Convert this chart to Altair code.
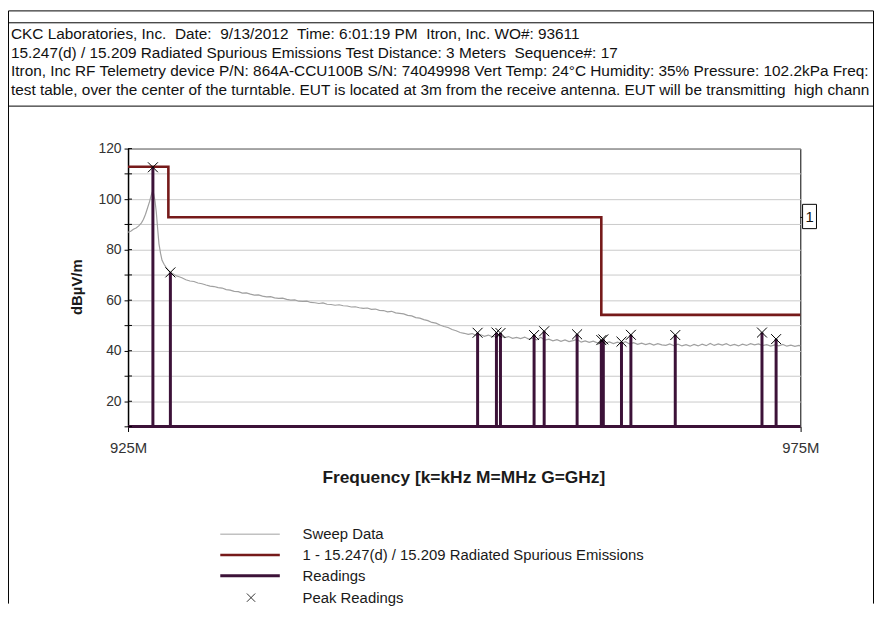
import altair as alt
import pandas as pd

# ---------------- data ----------------
sweep_freq_mhz = [
    925.0, 925.2, 925.4, 925.6, 925.8, 926.0, 926.15, 926.3, 926.45, 926.6,
    926.72, 926.82, 926.9, 927.0, 927.1, 927.2, 927.3, 927.42, 927.53, 927.68,
    927.83, 928.0, 928.2, 928.4, 928.6, 928.8, 929.0, 929.3, 929.6, 929.9,
    930.2, 930.5, 930.8, 931.1, 931.4, 931.7, 932.0, 932.3, 932.6, 932.9,
    933.2, 933.5, 933.8, 934.1, 934.4, 934.7, 935.0, 935.3, 935.6, 935.9,
    936.2, 936.5, 936.8, 937.1, 937.4, 937.7, 938.0, 938.3, 938.6, 938.9,
    939.2, 939.5, 939.8, 940.1, 940.4, 940.7, 941.0, 941.3, 941.6, 941.9,
    942.2, 942.5, 942.8, 943.1, 943.4, 943.7, 944.0, 944.3, 944.6, 944.9,
    945.2, 945.5, 945.8, 946.1, 946.4, 946.7, 947.0, 947.3, 947.6, 947.9,
    948.2, 948.5, 948.8, 949.1, 949.4, 949.7, 950.0, 950.3, 950.6, 950.9,
    951.2, 951.5, 951.8, 952.1, 952.4, 952.7, 953.0, 953.3, 953.6, 953.9,
    954.2, 954.5, 954.8, 955.1, 955.4, 955.7, 956.0, 956.3, 956.6, 956.9,
    957.2, 957.5, 957.8, 958.1, 958.4, 958.7, 959.0, 959.3, 959.6, 959.9,
    960.2, 960.5, 960.8, 961.1, 961.4, 961.7, 962.0, 962.3, 962.6, 962.9,
    963.2, 963.5, 963.8, 964.1, 964.4, 964.7, 965.0, 965.3, 965.6, 965.9,
    966.2, 966.5, 966.8, 967.1, 967.4, 967.7, 968.0, 968.3, 968.6, 968.9,
    969.2, 969.5, 969.8, 970.1, 970.4, 970.7, 971.0, 971.3, 971.6, 971.9,
    972.2, 972.5, 972.8, 973.1, 973.4, 973.7, 974.0, 974.3, 974.6, 974.9,
    975.0,
]
sweep_dbuv = [
    86.9, 87.3, 88.1, 88.6, 89.4, 90.6, 92.0, 94.0, 96.5, 99.0,
    101.5, 103.0, 102.2, 99.5, 95.0, 88.5, 82.3, 78.5, 75.8, 74.2,
    73.0, 71.8, 70.9, 70.3, 69.6, 69.3, 68.9, 68.1, 67.6, 67.4,
    66.8, 66.5, 66.0, 65.6, 65.4, 65.0, 64.8, 64.2, 64.0, 63.5,
    63.4, 62.8, 62.9, 62.4, 62.0, 62.1, 61.6, 61.3, 61.4, 60.9,
    60.7, 60.8, 60.3, 60.0, 60.1, 59.6, 59.5, 59.6, 59.1, 59.0,
    58.7, 58.9, 58.4, 58.3, 58.0, 58.2, 57.8, 57.7, 57.3, 57.4,
    57.0, 56.8, 56.9, 56.4, 56.5, 56.0, 55.9, 55.4, 55.6, 55.0,
    54.8, 54.6, 54.0, 53.8, 53.1, 52.9, 52.3, 51.9, 51.2, 50.9,
    50.2, 49.6, 49.2, 48.4, 47.9, 47.2, 46.9, 46.5, 46.8, 46.0,
    46.4, 45.7, 46.2, 45.5, 46.0, 45.9, 45.2, 45.6, 44.9, 45.3,
    44.8, 45.4, 44.6, 45.0, 44.3, 45.3, 44.2, 44.6, 43.9, 44.4,
    43.7, 44.3, 43.6, 44.0, 44.5, 43.4, 43.9, 43.3, 43.8, 43.1,
    43.6, 43.0, 43.5, 42.8, 43.4, 42.9, 43.6, 42.7, 43.2, 42.5,
    43.0, 42.4, 42.9, 42.2, 42.8, 42.3, 42.1, 42.7, 42.0, 42.6,
    41.9, 42.4, 41.8, 42.5, 41.9, 42.6, 42.0, 42.9, 42.1, 42.7,
    42.2, 42.8, 42.0, 42.5, 41.9, 42.6, 42.1, 42.8, 42.3, 42.7,
    42.0, 42.4, 41.8, 42.3, 41.9, 42.5, 41.8, 42.2, 41.7, 42.1,
    41.9,
]
limit_freq_mhz = [925.0, 928.0, 928.0, 960.2, 960.2, 975.0]
limit_dbuv = [112.8, 112.8, 92.8, 92.8, 54.2, 54.2]

reading_freq_mhz = [926.85, 928.15, 951.0, 952.4, 952.7, 955.2, 955.95, 958.4,
                    960.2, 960.35, 961.7, 962.4, 965.7, 972.15, 973.2]
reading_dbuv = [112.6, 71.0, 47.1, 47.2, 47.0, 46.2, 47.7, 46.5,
                44.2, 44.5, 43.6, 46.3, 46.2, 47.2, 44.6]
reading_floor = 10.0

x_domain = [925, 975]
y_domain = [10, 120]
y_tick_values = list(range(10, 121, 10))
x_tick_values = [925, 975]

header_lines = [
    "CKC Laboratories, Inc.  Date:  9/13/2012  Time: 6:01:19 PM  Itron, Inc. WO#: 93611",
    "15.247(d) / 15.209 Radiated Spurious Emissions Test Distance: 3 Meters  Sequence#: 17",
    "Itron, Inc RF Telemetry device P/N: 864A-CCU100B S/N: 74049998 Vert Temp: 24\u00b0C Humidity: 35% Pressure: 102.2kPa Freq: 928 MHz",
    "test table, over the center of the turntable. EUT is located at 3m from the receive antenna. EUT will be transmitting  high channel",
]
legend_labels = ["Sweep Data", "1 - 15.247(d) / 15.209 Radiated Spurious Emissions",
                 "Readings", "Peak Readings"]
x_title = "Frequency [k=kHz M=MHz G=GHz]"
y_title = "dB\u00b5V/m"
limit_tag = "1"

# ---------------- layout / style ----------------
W, H = 677.7, 280.2
OX, OY = 129.0, 147.3           # page position of plot origin
PAD_L, PAD_T = OX - 8, OY - 8
SVG_W, SVG_H = 874, 598


def px(X):
    return X - OX


def py(Y):
    return Y - OY


SWEEP_C = "#a0a0a0"
LIMIT_C = "#761a1a"
READ_C = "#3c1238"
GRID_C = "#c9c9c9"
FONT = "Liberation Sans, Arial, sans-serif"

xs = alt.Scale(domain=x_domain, nice=False, zero=False)
ys = alt.Scale(domain=y_domain, nice=False, zero=False)

sweep_df = pd.DataFrame({"f": sweep_freq_mhz, "v": sweep_dbuv, "i": range(len(sweep_freq_mhz))})
limit_df = pd.DataFrame({"f": limit_freq_mhz, "v": limit_dbuv, "i": range(len(limit_freq_mhz))})

path_f, path_v = [x_domain[0]], [reading_floor]
for f, v in zip(reading_freq_mhz, reading_dbuv):
    path_f += [f, f, f]
    path_v += [reading_floor, v, reading_floor]
path_f.append(x_domain[1])
path_v.append(reading_floor)
read_df = pd.DataFrame({"f": path_f, "v": path_v, "i": range(len(path_f))})
peak_df = pd.DataFrame({"f": reading_freq_mhz, "v": reading_dbuv})
ytick_df = pd.DataFrame({"v": y_tick_values})
one = pd.DataFrame({"k": [0]})

y_axis = alt.Axis(values=y_tick_values,
                  labelExpr="datum.value % 20 == 0 && datum.value > 10 ? datum.label : ''",
                  grid=True, gridColor=GRID_C, gridWidth=1,
                  tickColor="black", tickSize=4, domainColor="black", domainWidth=1.5,
                  labelFont=FONT, labelFontSize=14, labelColor="#333333", labelPadding=3,
                  title=None)
x_axis = alt.Axis(values=x_tick_values, labelExpr="datum.value + 'M'", grid=False,
                  tickColor="black", tickSize=5, domainColor="black",
                  labelFont=FONT, labelFontSize=15, labelColor="#333333",
                  labelPadding=9, labelFlush=False, title=None)

XE = alt.X("f:Q", scale=xs, axis=x_axis)
YE = alt.Y("v:Q", scale=ys, axis=y_axis)

sweep = alt.Chart(sweep_df).mark_line(color=SWEEP_C, strokeWidth=1.2).encode(x=XE, y=YE, order="i:Q")
limit = alt.Chart(limit_df).mark_line(color=LIMIT_C, strokeWidth=2.6).encode(x=XE, y=YE, order="i:Q")
readings = alt.Chart(read_df).mark_line(color=READ_C, strokeWidth=3).encode(x=XE, y=YE, order="i:Q")
XSHAPE = "M-1,-1L1,1M-1,1L1,-1"
peaks = alt.Chart(peak_df).mark_point(shape=XSHAPE, size=100, filled=False, color="black",
                                      strokeWidth=1, opacity=1).encode(x=XE, y=YE)
inner_ticks = alt.Chart(ytick_df).mark_rule(color="black", strokeWidth=1).encode(
    x=alt.value(0), x2=alt.value(4), y=YE)

layers = [sweep, limit, readings, peaks, inner_ticks]


def rule(x1, y1, x2, y2, color="black", w=1.0):
    return alt.Chart(one).mark_rule(color=color, strokeWidth=w).encode(
        x=alt.value(px(x1)), x2=alt.value(px(x2)), y=alt.value(py(y1)), y2=alt.value(py(y2)))


def text(s, X, Y, size, bold=False, align="left", color="#111111", angle=0, limit=0):
    kw = dict(text=s, fontSize=size, font=FONT, align=align, baseline="middle", color=color,
              fontWeight="bold" if bold else "normal")
    if angle:
        kw["angle"] = angle
    if limit:
        kw["limit"] = limit
        kw["ellipsis"] = "\u200b"
    return alt.Chart(one).mark_text(**kw).encode(x=alt.value(px(X)), y=alt.value(py(Y)))


# page frame
LB, RB = 8.5, 880.5
layers += [
    rule(LB, 8.5, LB, 606), rule(RB, 8.5, RB, 606),
    rule(LB, 8.5, RB, 8.5), rule(LB, 20.5, RB, 20.5), rule(LB, 104.5, RB, 104.5),
]
for k, line in enumerate(header_lines):
    shown = line.replace("  ", " \u00a0")
    layers.append(text(shown, 11, 32 + 18.7 * k, 15.5, limit=RB - 11 - 1))

# limit tag box
layers += [
    rule(806.7, 216.7, 809, 216.7),
    alt.Chart(one).mark_rect(fill="white", stroke="black", strokeWidth=1).encode(
        x=alt.value(px(809)), x2=alt.value(px(823)), y=alt.value(py(203.5)), y2=alt.value(py(228))),
    text(limit_tag, 816, 216, 15, align="center"),
]

# axis titles
layers += [
    text(x_title, 467.5, 479, 17.5, bold=True, align="center", color="#1a1a1a"),
    text(y_title, 78, 287, 15, bold=True, align="center", angle=270, color="#1a1a1a"),
]

# legend
LY = [536, 557, 578, 600]
layers += [
    rule(222, LY[0], 282, LY[0], SWEEP_C, 1),
    rule(222, LY[1], 282, LY[1], LIMIT_C, 2.6),
    rule(222, LY[2], 282, LY[2], READ_C, 3),
    alt.Chart(one).mark_point(shape=XSHAPE, size=70, filled=False, color="#333333",
                              strokeWidth=1, opacity=1).encode(
        x=alt.value(px(253)), y=alt.value(py(LY[3]))),
]
for lab, yy in zip(legend_labels, LY):
    layers.append(text(lab, 305, yy, 15, color="#1a1a1a"))

chart = alt.layer(*layers).properties(
    width=W, height=H,
    autosize=alt.AutoSizeParams(type="none"),
    padding={"left": PAD_L, "top": PAD_T, "right": SVG_W - PAD_L - W, "bottom": SVG_H - PAD_T - H},
    background="white",
).configure_view(stroke="black", strokeWidth=1)

chart.save("out.html", embed_options={"renderer": "svg", "actions": False})
